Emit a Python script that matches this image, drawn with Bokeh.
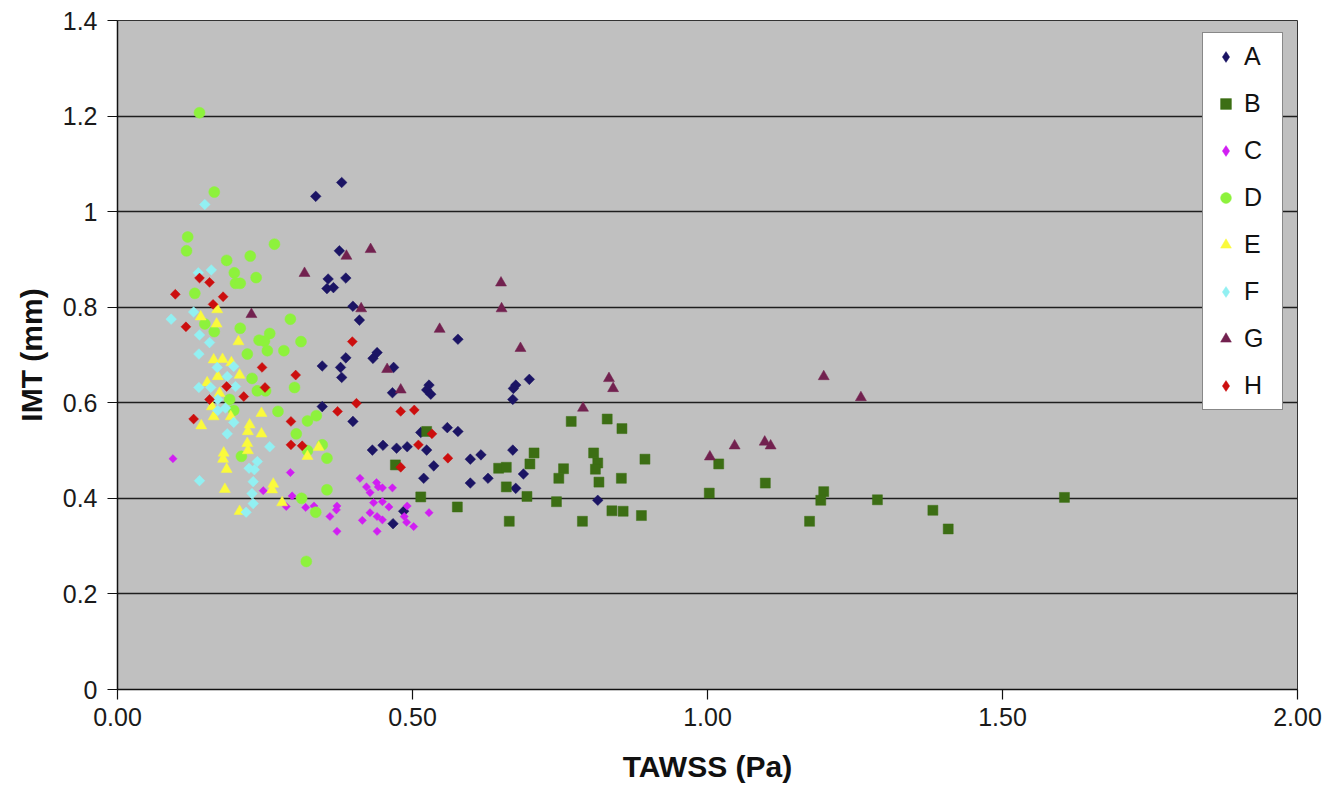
import numpy as np
from bokeh.plotting import figure
from bokeh.models import (Range1d, FixedTicker, NumeralTickFormatter, CustomJSTickFormatter,
                          Legend, LegendItem, ColumnDataSource)
from bokeh.embed import file_html
from bokeh.resources import INLINE

# ---------------- data (TAWSS in Pa, IMT in mm) ----------------
series_names = ["A", "B", "C", "D", "E", "F", "G", "H"]

a_x = [0.380, 0.336, 0.376, 0.357, 0.387, 0.355, 0.366, 0.399, 0.410, 0.577, 0.387, 0.347,
       0.378, 0.380, 0.433, 0.440, 0.468, 0.466, 0.528, 0.524, 0.531, 0.675, 0.671, 0.698,
       0.670, 0.347, 0.399, 0.514, 0.559, 0.577, 0.432, 0.450, 0.473, 0.491, 0.524, 0.536,
       0.598, 0.616, 0.670, 0.519, 0.598, 0.628, 0.688, 0.675, 0.485, 0.467, 0.814]
a_y = [1.061, 1.032, 0.918, 0.859, 0.861, 0.839, 0.841, 0.802, 0.773, 0.733, 0.694, 0.677,
       0.674, 0.653, 0.693, 0.705, 0.674, 0.621, 0.637, 0.627, 0.618, 0.637, 0.630, 0.649,
       0.607, 0.592, 0.561, 0.538, 0.548, 0.540, 0.501, 0.511, 0.505, 0.508, 0.501, 0.468,
       0.482, 0.491, 0.501, 0.442, 0.432, 0.442, 0.451, 0.421, 0.373, 0.347, 0.396]

b_x = [0.524, 0.471, 0.646, 0.659, 0.706, 0.699, 0.659, 0.694, 0.514, 0.576, 0.664, 0.744,
       0.769, 0.830, 0.855, 0.807, 0.814, 0.810, 0.894, 0.756, 0.748, 0.816, 0.854, 0.838,
       0.857, 0.888, 0.788, 1.019, 1.003, 1.098, 1.197, 1.192, 1.288, 1.173, 1.382, 1.408,
       1.605]
b_y = [0.540, 0.470, 0.463, 0.465, 0.495, 0.472, 0.424, 0.404, 0.403, 0.382, 0.352, 0.393,
       0.561, 0.566, 0.546, 0.495, 0.474, 0.461, 0.482, 0.462, 0.442, 0.434, 0.442, 0.374,
       0.373, 0.364, 0.352, 0.472, 0.411, 0.432, 0.414, 0.396, 0.397, 0.352, 0.375, 0.336,
       0.402]

c_x = [0.094, 0.293, 0.247, 0.296, 0.286, 0.319, 0.333, 0.372, 0.371, 0.360, 0.372, 0.415,
       0.428, 0.434, 0.449, 0.460, 0.440, 0.449, 0.440, 0.491, 0.486, 0.490, 0.502, 0.528,
       0.411, 0.422, 0.428, 0.439, 0.442, 0.449, 0.466]
c_y = [0.483, 0.454, 0.416, 0.405, 0.383, 0.381, 0.384, 0.384, 0.376, 0.362, 0.331, 0.354,
       0.370, 0.391, 0.393, 0.382, 0.362, 0.355, 0.331, 0.384, 0.362, 0.350, 0.341, 0.370,
       0.442, 0.424, 0.412, 0.433, 0.424, 0.422, 0.422]

d_x = [0.139, 0.164, 0.119, 0.117, 0.266, 0.185, 0.225, 0.198, 0.235, 0.200, 0.208, 0.131,
       0.293, 0.148, 0.164, 0.208, 0.240, 0.258, 0.249, 0.311, 0.220, 0.254, 0.282, 0.228,
       0.237, 0.251, 0.300, 0.190, 0.197, 0.272, 0.322, 0.337, 0.303, 0.322, 0.210, 0.347,
       0.355, 0.355, 0.312, 0.336, 0.320]
d_y = [1.207, 1.041, 0.947, 0.918, 0.932, 0.898, 0.907, 0.872, 0.862, 0.850, 0.850, 0.829,
       0.775, 0.765, 0.749, 0.756, 0.731, 0.745, 0.729, 0.728, 0.702, 0.709, 0.709, 0.651,
       0.625, 0.625, 0.632, 0.607, 0.584, 0.582, 0.562, 0.573, 0.535, 0.500, 0.488, 0.512,
       0.484, 0.418, 0.400, 0.371, 0.268]

e_x = [0.169, 0.141, 0.168, 0.205, 0.163, 0.178, 0.193, 0.170, 0.207, 0.152, 0.173, 0.160,
       0.163, 0.192, 0.244, 0.142, 0.224, 0.221, 0.244, 0.220, 0.221, 0.180, 0.179, 0.322,
       0.185, 0.182, 0.264, 0.262, 0.207, 0.279, 0.341]
e_y = [0.795, 0.780, 0.765, 0.728, 0.690, 0.691, 0.684, 0.655, 0.658, 0.642, 0.620, 0.592,
       0.571, 0.571, 0.578, 0.552, 0.554, 0.540, 0.535, 0.515, 0.500, 0.495, 0.482, 0.488,
       0.461, 0.419, 0.430, 0.418, 0.373, 0.391, 0.507]

f_x = [0.148, 0.159, 0.137, 0.129, 0.091, 0.139, 0.156, 0.138, 0.169, 0.197, 0.186, 0.138,
       0.158, 0.200, 0.170, 0.170, 0.183, 0.197, 0.186, 0.258, 0.237, 0.223, 0.232, 0.139,
       0.230, 0.228, 0.230, 0.218]
f_y = [1.015, 0.878, 0.872, 0.790, 0.775, 0.742, 0.726, 0.702, 0.674, 0.676, 0.655, 0.632,
       0.632, 0.634, 0.607, 0.584, 0.589, 0.559, 0.535, 0.508, 0.477, 0.463, 0.460, 0.437,
       0.435, 0.410, 0.389, 0.371]

g_x = [0.388, 0.429, 0.317, 0.413, 0.546, 0.650, 0.651, 0.683, 0.457, 0.480, 0.227, 0.833,
       0.840, 1.197, 1.260, 0.789, 1.004, 1.046, 1.097, 1.107]
g_y = [0.907, 0.921, 0.871, 0.797, 0.754, 0.851, 0.797, 0.714, 0.670, 0.627, 0.785, 0.651,
       0.630, 0.655, 0.611, 0.589, 0.487, 0.510, 0.518, 0.510]

h_x = [0.139, 0.156, 0.098, 0.179, 0.162, 0.116, 0.398, 0.245, 0.302, 0.185, 0.250, 0.156,
       0.214, 0.129, 0.294, 0.294, 0.313, 0.405, 0.373, 0.480, 0.503, 0.533, 0.510, 0.480,
       0.560]
h_y = [0.861, 0.852, 0.827, 0.822, 0.806, 0.759, 0.728, 0.674, 0.658, 0.634, 0.632, 0.607,
       0.613, 0.566, 0.561, 0.512, 0.510, 0.599, 0.582, 0.582, 0.585, 0.535, 0.512, 0.465,
       0.484]

y_ticks = [0, 0.2, 0.4, 0.6, 0.8, 1.0, 1.2, 1.4]
x_ticks = [0, 0.5, 1.0, 1.5, 2.0]

# ---------------- figure ----------------
FONT = "Liberation Sans"
p = figure(width=1336, height=785, x_range=Range1d(0, 2), y_range=Range1d(0, 1.4),
           output_backend="svg", toolbar_location=None,
           background_fill_color="#C0C0C0", border_fill_color="white",
           min_border_left=117, min_border_right=39, min_border_top=20, min_border_bottom=95)

p.outline_line_color = "#333333"
p.outline_line_width = 1

p.xgrid.visible = False
p.ygrid.ticker = FixedTicker(ticks=y_ticks)
p.ygrid.grid_line_color = "#1e1e1e"
p.ygrid.grid_line_width = 1.5

for ax in (p.xaxis[0], p.yaxis[0]):
    ax.axis_line_color = "#111111"
    ax.axis_line_width = 1.5
    ax.major_tick_line_color = "#111111"
    ax.major_tick_line_width = 1.2
    ax.major_tick_out = 10
    ax.major_tick_in = 0
    ax.minor_tick_line_color = None
    ax.major_label_text_font = FONT
    ax.major_label_text_font_size = "25px"
    ax.major_label_text_color = "#1a1a1a"
    ax.axis_label_text_font = FONT
    ax.axis_label_text_font_size = "30px"
    ax.axis_label_text_font_style = "bold"
    ax.axis_label_text_color = "#111111"

p.xaxis.ticker = FixedTicker(ticks=x_ticks)
p.xaxis.formatter = NumeralTickFormatter(format="0.00")
p.xaxis.major_label_standoff = 8
p.xaxis.axis_label = "TAWSS (Pa)"
p.xaxis.axis_label_standoff = 21

p.yaxis.ticker = FixedTicker(ticks=y_ticks)
p.yaxis.formatter = CustomJSTickFormatter(code="return tick.toFixed(1).replace(/\\.0$/, '');")
p.yaxis.major_label_standoff = 10
p.yaxis.axis_label = "IMT (mm)"
p.yaxis.axis_label_standoff = 12

# ---------------- scatter series ----------------
D45 = np.pi / 4
specs = [
    ("A", a_x, a_y, "square", 7.5, D45, "#1B1464", "diamond"),
    ("B", b_x, b_y, "square", 10, 0, "#3C6E14", "square"),
    ("C", c_x, c_y, "square", 5.8, D45, "#D11EF2", "diamond"),
    ("D", d_x, d_y, "circle", 11, 0, "#8DF23C", "circle"),
    ("E", e_x, e_y, "triangle", 11, 0, "#FAFA3C", "triangle"),
    ("F", f_x, f_y, "square", 7.5, D45, "#92F0F2", "diamond"),
    ("G", g_x, g_y, "triangle", 11, 0, "#72214F", "triangle"),
    ("H", h_x, h_y, "square", 7, D45, "#CC0E0E", "diamond"),
]

items = []
for name, xs, ys, marker, size, angle, color, lmarker in specs:
    p.scatter(x=xs, y=ys, marker=marker, size=size, angle=angle,
              fill_color=color, line_color=color, line_width=0.5)
    # legend key renderer (a single NaN row, never drawn in the plot area) so that
    # the diamond series show a diamond in the key
    lr = p.scatter(x="x", y="y", source=ColumnDataSource(data=dict(x=[np.nan], y=[np.nan])),
                   marker=lmarker, size=size, fill_color=color, line_color=color,
                   line_width=0.5)
    items.append(LegendItem(label=name, renderers=[lr]))

legend = Legend(items=items, location=(1085, 279),
                background_fill_color="white", background_fill_alpha=1.0,
                border_line_color="#111111", border_line_width=1,
                label_text_font=FONT, label_text_font_size="25px", label_text_color="#111111",
                glyph_width=27, glyph_height=27, label_height=29, label_width=29,
                label_standoff=5, spacing=18, padding=9, margin=0)
p.add_layout(legend, "center")

open("out.html", "w").write(file_html(p, INLINE))
